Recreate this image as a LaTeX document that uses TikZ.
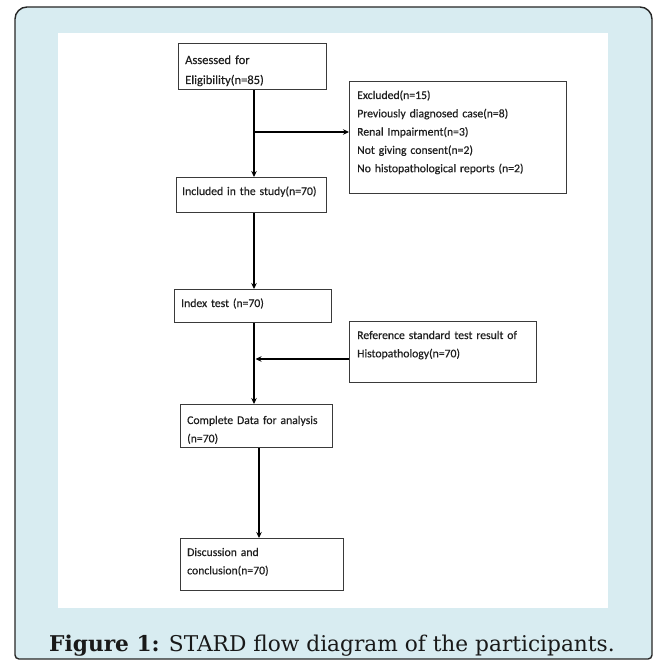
\documentclass[tikz,border=0pt]{standalone}
\usepackage{fontspec}
\setmainfont{Carlito}
\newfontfamily\boxfont[FakeBold=0.4]{Carlito}
\newfontfamily\capfont{DejaVu Serif}
\usetikzlibrary{arrows.meta}
\definecolor{bgblue}{HTML}{D8ECF1}
\definecolor{boxgray}{HTML}{3A3A3A}
\definecolor{txtgray}{HTML}{202020}
\begin{document}
\begin{tikzpicture}[x=1pt,y=-1pt,
  flowbox/.style={draw=boxgray, line width=1.1pt, rectangle, inner sep=0pt, anchor=north west},
  boxtext/.style={anchor=base west, inner sep=0pt, align=left, text width=230pt, text=txtgray, font=\boxfont\fontsize{11.7}{18.3}\selectfont},
  flowarrow/.style={line width=1.7pt, -{Stealth[length=6pt,width=5.5pt]}},
  ]
\useasboundingbox (0,0) rectangle (655,661);
% frame
\path[draw=black!85, line width=1.4pt, fill=bgblue]
  (15,600) [rounded corners=12pt] -- (15,7) -- (652,7) -- (652,600)
  [rounded corners=4pt] -- (652,659) -- (15,659) -- (15,600) -- cycle;
\fill[white] (58,33) rectangle (608,608);
% boxes
\node[flowbox, minimum width=148pt, minimum height=46pt] (a) at (178,43) {};
\node[flowbox, minimum width=217pt, minimum height=112pt] (x) at (349,81) {};
\node[flowbox, minimum width=150pt, minimum height=35pt] (b) at (176,177) {};
\node[flowbox, minimum width=157pt, minimum height=33pt] (c) at (174,289) {};
\node[flowbox, minimum width=187pt, minimum height=61pt] (r) at (349,321) {};
\node[flowbox, minimum width=152pt, minimum height=43pt] (d) at (180,404) {};
\node[flowbox, minimum width=163pt, minimum height=52pt] (e) at (180,538) {};
% texts
\node[boxtext, font=\boxfont\fontsize{12.5}{20}\selectfont] (ta) at (185,64) {Assessed for\\Eligibility(n=85)};
\node[boxtext] (tx) at (357,99) {Excluded(n=15)\\Previously diagnosed case(n=8)\\Renal Impairment(n=3)\\Not giving consent(n=2)\\No histopathological reports (n=2)};
\node[boxtext] (tb) at (182,195) {Included in the study(n=70)};
\node[boxtext] (tc) at (181,307) {Index test (n=70)};
\node[boxtext] (tr) at (357,339) {Reference standard test result of\\Histopathology(n=70)};
\node[boxtext] (td) at (187,424) {Complete Data for analysis\\(n=70)};
\node[boxtext] (te) at (187,556) {Discussion and\\conclusion(n=70)};
% connectors
\coordinate (m) at (254,0);
\coordinate (m2) at (259,0);
\coordinate (j1) at (254,132);
\coordinate (j2) at (255.5,359);
\draw[flowarrow] (a.south -| m) -- (b.north -| m);
\draw[flowarrow] (j1) -- (j1 -| x.west);
\draw[flowarrow] (b.south -| m) -- (c.north -| m);
\draw[flowarrow] (c.south -| m) -- (d.north -| m);
\draw[flowarrow] (r.west |- j2) -- (j2);
\draw[flowarrow] (d.south -| m2) -- (e.north -| m2);
% caption
\node[font=\capfont\fontsize{21.7}{26}\selectfont, anchor=base west, inner sep=0pt, text=black!90] (cap) at (49,651) {\textbf{Figure 1:} STARD flow diagram of the participants.};
\end{tikzpicture}
\end{document}
